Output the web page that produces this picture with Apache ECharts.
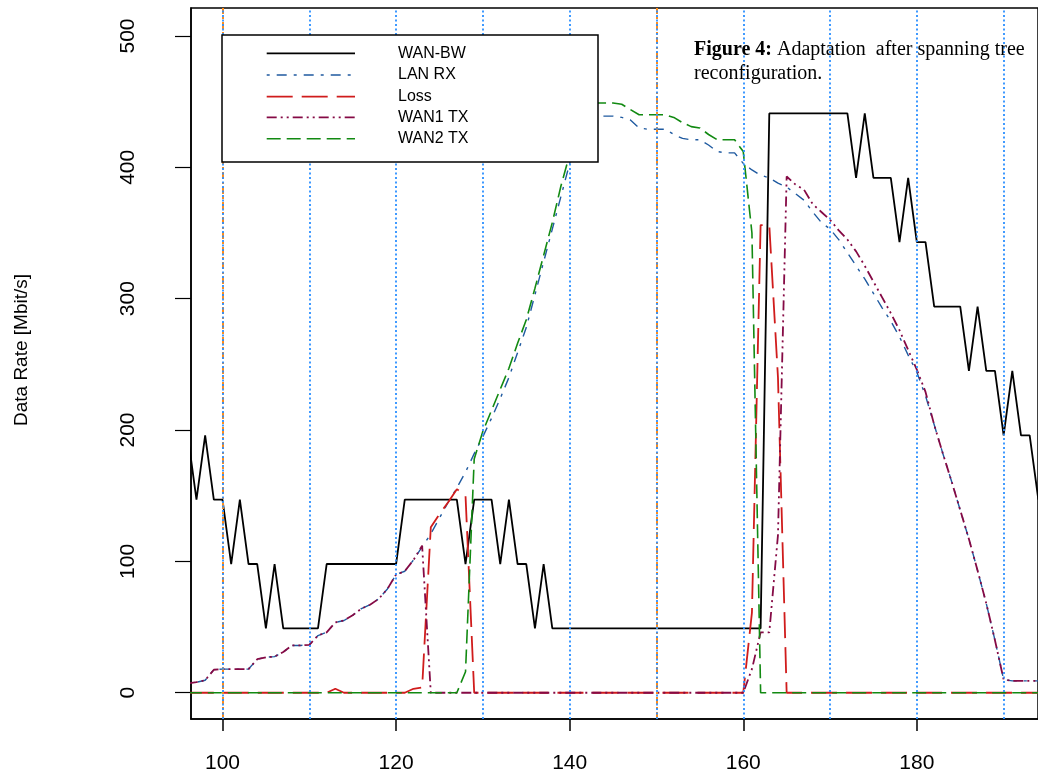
<!DOCTYPE html>
<html>
<head>
<meta charset="utf-8">
<script src="https://cdn.jsdelivr.net/npm/echarts@6/dist/echarts.min.js"></script>
<style>
html,body{margin:0;padding:0;background:#fff;}
#c{width:1038px;height:774px;}
</style>
</head>
<body>
<div id="c"></div>
<script>
// time (s)
var T = [96,97,98,99,100,101,102,103,104,105,
  106,107,108,109,110,111,112,113,114,115,
  116,117,118,119,120,121,122,123,124,125,
  126,127,128,129,130,131,132,133,134,135,
  136,137,138,139,140,141,142,143,144,145,
  146,147,148,149,150,151,152,153,154,155,
  156,157,158,159,160,161,162,163,164,165,
  166,167,168,169,170,171,172,173,174,175,
  176,177,178,179,180,181,182,183,184,185,
  186,187,188,189,190,191,192,193,194];

var WAN_BW = [196,147,196,147,147,98,147,98,98,49,
  98,49,49,49,49,49,98,98,98,98,
  98,98,98,98,98,147,147,147,147,147,
  147,147,98,147,147,147,98,147,98,98,
  49,98,49,49,49,49,49,49,49,49,
  49,49,49,49,49,49,49,49,49,49,
  49,49,49,49,49,49,49,441,441,441,
  441,441,441,441,441,441,441,392,441,392,
  392,392,343,392,343,343,294,294,294,294,
  245,294,245,245,196,245,196,196,147];

var LAN_RX = [7,8,9.5,17.5,18,18,18,18,25.5,27,
  27.5,31,36,36,36.5,43.5,46,53.5,55,59,
  64,67,71.5,79,90,92.5,101,111,121,133,
  145,156,168,182,195,209,224,240,259,278,
  303,328,353,378,403,424,435,439,439,439,
  438,436,430,429,429,429,425,422,421,421,
  417,412,411,411,403,398,394,392,388,385,
  380,375,366,358,353,345,335,325,315,304,
  293,283,271,257,244,226,204,182,161,139,
  117,93,68,40,10,9,9,9,9];

var LOSS = [0,0,0,0,0,0,0,0,0,0,
  0,0,0,0,0,0,0,3,0,0,
  0,0,0,0,0,0,3,4,126,136,
  145,155,150,0,0,0,0,0,0,0,
  0,0,0,0,0,0,0,0,0,0,
  0,0,0,0,0,0,0,0,0,0,
  0,0,0,0,0,61,356,356,240,0,
  0,0,0,0,0,0,0,0,0,0,
  0,0,0,0,0,0,0,0,0,0,
  0,0,0,0,0,0,0,0,0];

var WAN1_TX = [7,8,9.5,17.5,18,18,18,18,25.5,27,
  27.5,31,36,36,36.5,43.5,46,53.5,55,59,
  64,67,71.5,79,90,92.5,101,112,0,0,
  0,0,0,0,0,0,0,0,0,0,
  0,0,0,0,0,0,0,0,0,0,
  0,0,0,0,0,0,0,0,0,0,
  0,0,0,0,0,18,46,46,120,393,
  387,383,372,366,360,352,345,336,325,313,
  301,289,276,261,246,229,204,182,161,139,
  117,93,68,40,10,9,9,9,9];

var WAN2_TX = [0,0,0,0,0,0,0,0,0,0,
  0,0,0,0,0,0,0,0,0,0,
  0,0,0,0,0,0,0,0,0,0,
  0,0,16,178,199,215,231,247,266,284,
  308,333,358,386,410,432,444,449,449,449,
  448,444,440,440,440,440,438,434,431,430,
  425,421,421,421,412,350,0,0,0,0,
  0,0,0,0,0,0,0,0,0,0,
  0,0,0,0,0,0,0,0,0,0,
  0,0,0,0,0,0,0,0,0];

var X_TICKS = [100,120,140,160,180];
var Y_TICKS = [0,100,200,300,400,500];
var V_BLUE = [100,110,120,130,140,150,160,170,180,190];
var V_ORANGE = [100,150];
var SERIES_NAMES = ['WAN-BW','LAN RX','Loss','WAN1 TX','WAN2 TX'];
var CAPTION_BOLD = 'Figure 4:';
var CAPTION_1 = ' Adaptation  after spanning tree';
var CAPTION_2 = 'reconfiguration.';
var Y_TITLE = 'Data Rate [Mbit/s]';

function pairs(arr){ return T.map(function(t,i){ return [t, arr[i]]; }); }

var styles = [
  {color:'#000000', width:1.8, type:'solid'},
  {color:'#1f5aa0', width:1.4, type:[3,7,10,7]},
  {color:'#d01c1c', width:1.8, type:[26,9]},
  {color:'#850a45', width:1.8, type:[10,4,2,4,2,4]},
  {color:'#128a12', width:1.6, type:[14,6]}
];
var datas = [WAN_BW, LAN_RX, LOSS, WAN1_TX, WAN2_TX];

var series = [];
series.push({
  type:'line', data:[], silent:true,
  markLine:{silent:true, symbol:['none','none'], label:{show:false}, animation:false,
    lineStyle:{color:'#ff8c1a', width:2, type:[7,3,2,3]},
    data: V_ORANGE.map(function(v){return {xAxis:v};})}
});
series.push({
  type:'line', data:[], silent:true,
  markLine:{silent:true, symbol:['none','none'], label:{show:false}, animation:false,
    lineStyle:{color:'#2b8fff', width:1.8, type:[2,2.5]},
    data: V_BLUE.map(function(v){return {xAxis:v};})}
});
datas.forEach(function(d,i){
  series.push({
    name:SERIES_NAMES[i], type:'line', data:pairs(d), showSymbol:false, symbol:'none',
    clip:true, animation:false,
    lineStyle:{color:styles[i].color, width:styles[i].width, type:styles[i].type}
  });
});

// legend graphic
var legendEls = [];
var LX = 222, LY = 35, LW = 376, LH = 127;
var rows = [53.3, 75, 96.7, 117.3, 138.7];
legendEls.push({type:'rect', z:100, shape:{x:LX, y:LY, width:LW, height:LH},
  style:{fill:'#fff', stroke:'#000', lineWidth:1.5}});
SERIES_NAMES.forEach(function(n,i){
  legendEls.push({type:'line', z:101, shape:{x1:266.7, y1:rows[i], x2:355, y2:rows[i]},
    style:{stroke:styles[i].color, lineWidth:styles[i].width, lineDash: styles[i].type==='solid'?null:styles[i].type}});
  legendEls.push({type:'text', z:101, x:398, y:rows[i],
    style:{text:n, font:'16px "Liberation Sans", Arial, sans-serif', fill:'#000', verticalAlign:'middle', textAlign:'left'}});
});

legendEls.push({type:'text', z:101, x:694, y:38,
  style:{text:'{b|'+CAPTION_BOLD+'}'+CAPTION_1+'\n'+CAPTION_2,
    font:'20px "Liberation Serif", "Times New Roman", serif', fill:'#000',
    lineHeight:24, verticalAlign:'top', textAlign:'left',
    rich:{b:{font:'bold 20px "Liberation Serif", "Times New Roman", serif', fill:'#000', lineHeight:24}}}});

legendEls.push({type:'text', z:101, x:22, y:350, rotation:Math.PI/2,
  style:{text:Y_TITLE, font:'19px "Liberation Sans", Arial, sans-serif', fill:'#000',
    textAlign:'center', verticalAlign:'middle'}});

var chart = echarts.init(document.getElementById('c'), null, {renderer:'canvas'});
chart.setOption({
  backgroundColor:'#fff',
  animation:false,
  grid:{left:191, top:8, right:-5, bottom:54, show:true, borderColor:'#000', borderWidth:1.5, backgroundColor:'transparent'},
  xAxis:{type:'value', min:96.37, max:193.96,
    axisLine:{show:true, onZero:false, lineStyle:{color:'#000', width:1.5}},
    axisTick:{show:true, inside:false, length:12, customValues:X_TICKS, lineStyle:{color:'#000', width:1.5}},
    axisLabel:{show:true, customValues:X_TICKS, margin:34, fontSize:21, color:'#000',
      fontFamily:'"Liberation Sans", Arial, sans-serif'},
    splitLine:{show:false}},
  yAxis:{type:'value', min:-20, max:521.3,
    axisLine:{show:true, onZero:false, lineStyle:{color:'#000', width:1.5}},
    axisTick:{show:true, inside:false, length:16, customValues:Y_TICKS, lineStyle:{color:'#000', width:1.2}},
    axisLabel:{show:true, customValues:Y_TICKS, rotate:90, margin:52, fontSize:21, color:'#000',
      fontFamily:'"Liberation Sans", Arial, sans-serif'},
    splitLine:{show:false}},
  series:series,
  graphic:{elements:legendEls}
});
</script>
</body>
</html>
